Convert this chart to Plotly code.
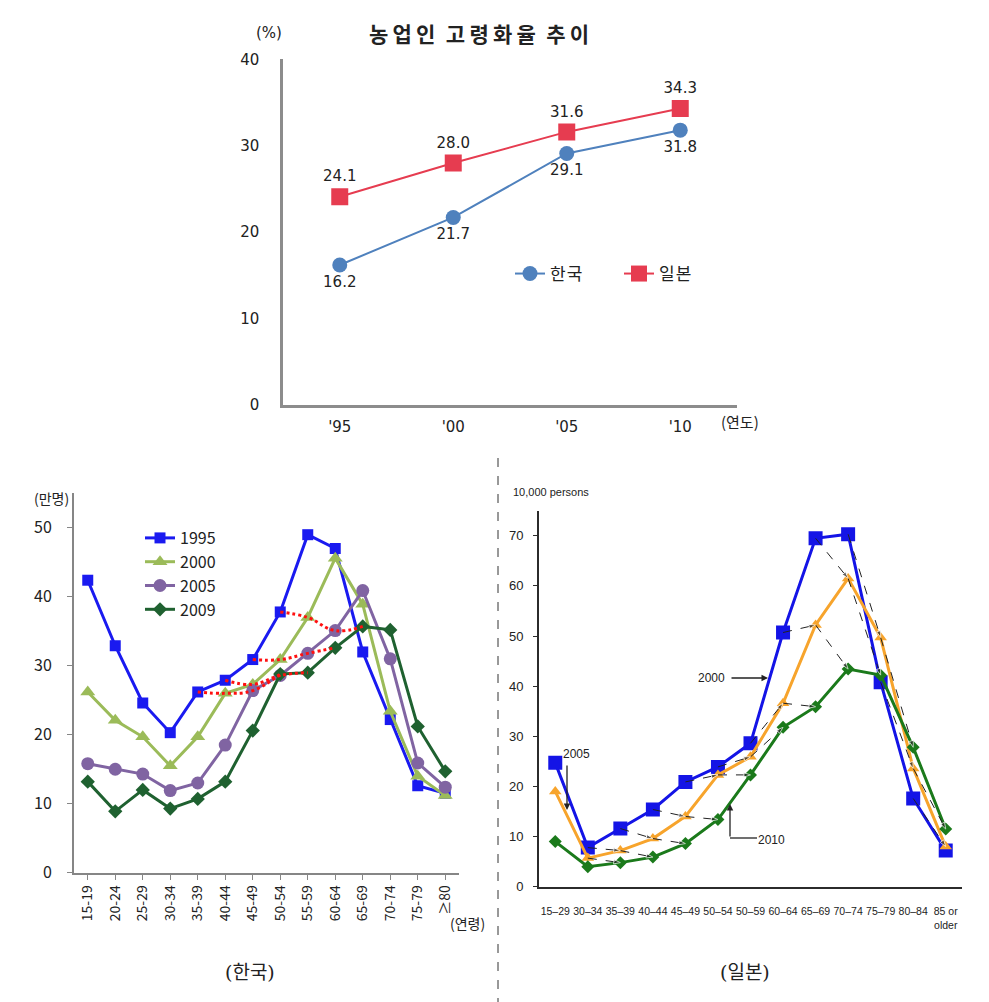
import plotly.graph_objects as go

# ---------------- data ----------------
# Top: 농업인 고령화율 추이 (%)
years = ["'95", "'00", "'05", "'10"]
kor_rate = [16.2, 21.7, 29.1, 31.8]
jpn_rate = [24.1, 28.0, 31.6, 34.3]

# Bottom-left: Korea farm population by age (만명)
kr_ages = ["15-19", "20-24", "25-29", "30-34", "35-39", "40-44", "45-49",
           "50-54", "55-59", "60-64", "65-69", "70-74", "75-79", "≥80"]
kr_1995 = [42.4, 32.9, 24.6, 20.3, 26.2, 27.9, 30.9, 37.8, 49.0, 47.0, 32.0, 22.2, 12.6, 11.5]
kr_2000 = [26.2, 22.1, 19.7, 15.5, 19.7, 26.0, 27.3, 30.9, 37.0, 45.6, 38.9, 23.4, 14.0, 11.2]
kr_2005 = [15.8, 15.0, 14.3, 11.9, 13.0, 18.5, 26.4, 28.6, 31.8, 35.1, 40.9, 31.0, 15.9, 12.4]
kr_2009 = [13.2, 8.9, 12.0, 9.3, 10.7, 13.2, 20.6, 28.8, 29.0, 32.6, 35.7, 35.2, 21.2, 14.7]
kr_cohort_starts = [4, 5, 6, 7]   # age-group index of the 1995 cohorts followed by red dotted curves

# Bottom-right: Japan farm population by age (10,000 persons)
jp_ages = ["15–29", "30–34", "35–39", "40–44", "45–49", "50–54", "50–59", "60–64",
           "65–69", "70–74", "75–79", "80–84", "85 or<br>older"]
jp_2000 = [24.7, 7.8, 11.6, 15.4, 20.9, 23.9, 28.6, 50.7, 69.5, 70.3, 40.8, 17.6, 7.2]
jp_2005 = [19.0, 5.7, 7.2, 9.6, 14.0, 22.3, 25.9, 36.6, 52.2, 61.5, 49.7, 23.6, 8.0]
jp_2010 = [9.0, 4.0, 4.8, 5.9, 8.6, 13.4, 22.3, 31.8, 35.9, 43.4, 42.2, 27.8, 11.5]

W, H = 989, 1002
OFF = 8  # page body margin of the html page
def px(x):
    return (x - OFF) / W
def py(y):
    return 1 - (y - OFF) / H

KR_FONT = "Noto Sans CJK KR, Malgun Gothic, sans-serif"
TOP_FONT = "DejaVu Sans, Noto Sans CJK KR, sans-serif"
JP_FONT = "Liberation Sans, Arial, sans-serif"
HS = "\u200a"
TS = "\u2009"

fig = go.Figure()

# ---------- top chart ----------
fig.add_trace(go.Scatter(
    x=years, y=kor_rate, name=HS.join("한국"), mode="lines+markers+text",
    line=dict(color="#4f81bd", width=2),
    marker=dict(symbol="circle", size=15, color="#4f81bd"),
    text=[f"{v:.1f}" for v in kor_rate], textposition="bottom center",
    textfont=dict(size=15, color="#222", family=TOP_FONT),
    xaxis="x", yaxis="y", legend="legend"))
fig.add_trace(go.Scatter(
    x=years, y=jpn_rate, name=HS.join("일본"), mode="lines+markers+text",
    line=dict(color="#e63c50", width=2),
    marker=dict(symbol="square", size=17, color="#e63c50"),
    text=[f"{v:.1f}" for v in jpn_rate], textposition="top center",
    textfont=dict(size=15, color="#222", family=TOP_FONT),
    xaxis="x", yaxis="y", legend="legend"))

# ---------- Korea chart ----------
kr_series = [
    ("1995", kr_1995, "#1a1af0", "square", 11),
    ("2000", kr_2000, "#9bbb59", "triangle-up", 13),
    ("2005", kr_2005, "#8064a2", "circle", 13),
    ("2009", kr_2009, "#1f6130", "diamond", 11),
]
for name, vals, col, sym, sz in kr_series:
    fig.add_trace(go.Scatter(
        x=kr_ages, y=vals, name=name, mode="lines+markers",
        line=dict(color=col, width=3),
        marker=dict(symbol=sym, size=sz, color=col),
        xaxis="x2", yaxis="y2", legend="legend2"))

kr_years_data = [kr_1995, kr_2000, kr_2005, kr_2009]
for s in kr_cohort_starts:
    xs = [kr_ages[s + k] for k in range(4)]
    ys = [kr_years_data[k][s + k] for k in range(4)]
    fig.add_trace(go.Scatter(
        x=xs, y=ys, mode="lines", showlegend=False,
        line=dict(color="#ff1010", width=3, dash="dot", shape="spline", smoothing=1.2),
        xaxis="x2", yaxis="y2", hoverinfo="skip"))

# ---------- Japan chart ----------
jp_series = [
    ("2000", jp_2000, "#1414e6", "square", 14),
    ("2005", jp_2005, "#f7a42c", "triangle-up", 11),
    ("2010", jp_2010, "#1b7a1b", "diamond", 10),
]
for name, vals, col, sym, sz in jp_series:
    fig.add_trace(go.Scatter(
        x=jp_ages, y=vals, name=name, mode="lines+markers", showlegend=False,
        line=dict(color=col, width=3),
        marker=dict(symbol=sym, size=sz, color=col),
        xaxis="x3", yaxis="y3"))

# cohort dashed arrows (2000 -> 2005 -> 2010)
for i in range(0, 12):
    xs, ys = [], []
    if i >= 1:
        xs.append(jp_ages[i]); ys.append(jp_2000[i])
    xs.append(jp_ages[i + 1]); ys.append(jp_2005[i + 1])
    if i + 2 <= 12:
        xs.append(jp_ages[i + 2]); ys.append(jp_2010[i + 2])
    if len(xs) < 2:
        continue
    fig.add_trace(go.Scatter(
        x=xs, y=ys, mode="lines+markers", showlegend=False, hoverinfo="skip",
        line=dict(color="#222", width=1, dash="dash"),
        marker=dict(symbol="arrow", angleref="previous", color="#222",
                    size=[0] + [7] * (len(xs) - 1)),
        xaxis="x3", yaxis="y3"))

# ---------- layout ----------
ann = []
def text(x, y, s, size=14, family=KR_FONT, color="#222", xanchor="center"):
    ann.append(dict(x=px(x), y=py(y), xref="paper", yref="paper", text=s,
                    showarrow=False, font=dict(size=size, family=family, color=color),
                    xanchor=xanchor, yanchor="middle"))

title = "<b>" + ("\u2002").join(TS.join(w) for w in ["농업인", "고령화율", "추이"]) + "</b>"
text(479, 33, title, size=21)
text(269, 33, "(%)", size=15, family=TOP_FONT)
text(740, 421, "(연도)", size=15)
text(51, 498, "(만명)", size=14)
text(467, 923, "(연령)", size=14)
text(551, 492, "10,000 persons", size=11, family=JP_FONT)
text(711, 678, "2000", size=12, family=JP_FONT)
text(576, 754, "2005", size=12, family=JP_FONT)
text(771, 840, "2010", size=12, family=JP_FONT)
text(250, 972, "(한국)", size=19, family="DejaVu Serif, Noto Sans CJK KR")
text(745, 972, "(일본)", size=19, family="DejaVu Serif, Noto Sans CJK KR")

def arrow(x_head, y_head, x_tail, y_tail):
    ann.append(dict(x=px(x_head), y=py(y_head), xref="paper", yref="paper",
                    ax=x_tail - x_head, ay=y_tail - y_head, text="",
                    showarrow=True, arrowhead=2, arrowsize=1, arrowwidth=1.3,
                    arrowcolor="#222"))
arrow(768, 678, 730, 678)
arrow(567, 810, 567, 764)
arrow(730, 804, 730, 838)

shapes = [
    dict(type="line", xref="paper", yref="paper", x0=px(730), x1=px(757),
         y0=py(838), y1=py(838), line=dict(color="#222", width=1.3)),
    dict(type="line", xref="paper", yref="paper", x0=px(498), x1=px(498),
         y0=py(458), y1=py(1010), line=dict(color="#333", width=1, dash="dash")),
]

axis_common = dict(showgrid=False, zeroline=False, showline=True, fixedrange=True,
                   automargin=False)

fig.update_layout(
    width=W, height=H, margin=dict(l=0, r=0, t=0, b=0, autoexpand=False),
    paper_bgcolor="white", plot_bgcolor="rgba(0,0,0,0)",
    font=dict(family=KR_FONT, color="#222"),
    annotations=ann, shapes=shapes,
    xaxis=dict(axis_common, domain=[px(283), px(737)], anchor="y", type="category",
               categoryorder="array", categoryarray=years,
               range=[-0.5, 3.5], linecolor="#8c8c8c", linewidth=2.5, ticks="",
               tickfont=dict(size=15, family=TOP_FONT), ticklabelstandoff=6),
    yaxis=dict(axis_common, domain=[py(405), py(59.3)], anchor="x", range=[0, 40],
               tickvals=[0, 10, 20, 30, 40], linecolor="#8c8c8c", linewidth=2.5,
               ticks="", tickfont=dict(size=15, family=TOP_FONT), ticklabelstandoff=18),
    xaxis2=dict(axis_common, domain=[px(74), px(459)], anchor="y2", type="category",
                categoryorder="array", categoryarray=kr_ages,
                range=[-0.5, 13.5], linecolor="#868686", linewidth=2, ticks="outside",
                ticklen=5, tickcolor="#868686", tickangle=-90, tickfont=dict(size=14)),
    yaxis2=dict(axis_common, domain=[py(872.7), py(493.3)], anchor="x2", range=[0, 55],
                tickvals=[0, 10, 20, 30, 40, 50], linecolor="#868686", linewidth=2,
                ticks="outside", ticklen=5, tickcolor="#868686", tickfont=dict(size=16),
                ticklabelstandoff=12),
    xaxis3=dict(axis_common, domain=[px(539), px(962)], anchor="y3", type="category",
                categoryorder="array", categoryarray=jp_ages,
                range=[-0.5, 12.5], linecolor="#2b2b2b", linewidth=2, ticks="",
                tickangle=0, tickfont=dict(size=10.5, family=JP_FONT), ticklabelstandoff=14),
    yaxis3=dict(axis_common, domain=[py(886.7), py(510.7)], anchor="x3", range=[0, 75],
                tickvals=[0, 10, 20, 30, 40, 50, 60, 70], linecolor="#2b2b2b", linewidth=2,
                ticks="outside", ticklen=4, tickcolor="#2b2b2b",
                tickfont=dict(size=13, family=JP_FONT), ticklabelstandoff=7),
    legend=dict(orientation="h", x=px(510), y=py(274), xanchor="left", yanchor="middle",
                bgcolor="rgba(0,0,0,0)", font=dict(size=17), itemwidth=30,
                entrywidth=64, entrywidthmode="pixels", tracegroupgap=0),
    legend2=dict(x=px(140), y=py(521), xanchor="left", yanchor="top",
                 bgcolor="rgba(0,0,0,0)", font=dict(size=16), itemwidth=30,
                 tracegroupgap=0),
)

fig.write_html("out.html")
